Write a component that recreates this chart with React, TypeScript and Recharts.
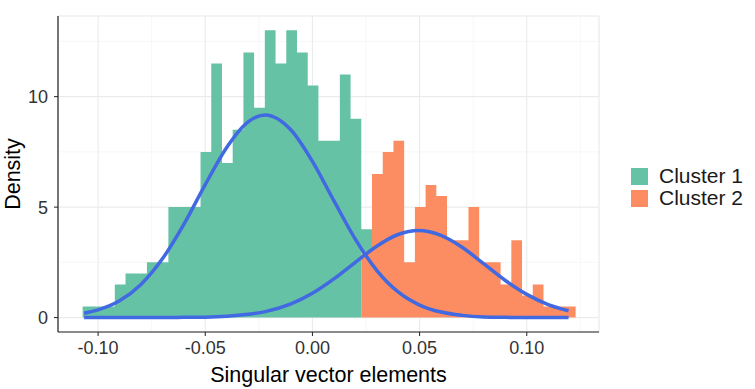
import { ComposedChart, Area, Line, XAxis, YAxis, CartesianGrid } from 'recharts';

// histogram bins (density), width 0.005
const binStart = -0.1072
const binWidth = 0.005
const cluster1 = [0.5,0.5,0.5,1.5,2,2,2.5,2.5,5,5,5,7.5,11.5,7,8.5,12,9.5,13,11.5,13,12,10.5,8,8,11,9,1,
  0,0,0,0,0,0,0,0,0,0,0,0,0,0,0,0,0,0,0]
const cluster2 = [0,0,0,0,0,0,0,0,0,0,0,0,0,0,0,0,0,0,0,0,0,0,0,0,0,0,
  3,6.5,7.5,8,2.5,5,6,5.5,3.5,3.5,5,2.5,2.5,1.5,3.5,1,1.5,0.5,0.5,0.5]

// fitted normal curves
const curveX = [-0.1065,-0.1,-0.09,-0.08,-0.07,-0.06,-0.05,-0.04,-0.03,-0.022,-0.01,0,0.01,0.02,0.03,0.04,0.0495,0.06,0.07,0.08,0.09,0.1,0.11,0.1195]
const fit1 = [0.2,0.35,0.76,1.5,2.66,4.22,6.02,7.7,8.86,9.17,8.49,7.07,5.29,3.55,2.14,1.16,0.59,0.25,0.1,0.03,0.01,0,0,0]
const fit2 = [0,0,0,0,0,0.01,0.02,0.06,0.15,0.27,0.62,1.1,1.75,2.5,3.23,3.76,3.94,3.72,3.17,2.43,1.68,1.05,0.59,0.31]

const xTicks = [-0.1,-0.05,0,0.05,0.1]
const yTicks = [0,5,10]
const xMinor = [-0.075,-0.025,0.025,0.075,0.125]
const yMinor = [2.5,7.5,12.5]
const xDomain = [-0.1187, 0.1337]
const yDomain = [-0.652, 13.65]

const GREEN = '#66c2a5'
const ORANGE = '#fc8d62'
const BLUE = '#4169e1'

const histData = Array.from({ length: cluster1.length + 1 }, (_, i) => {
  const k = Math.min(i, cluster1.length - 1)
  return { x: binStart + i * binWidth, c1: cluster1[k], c2: cluster2[k] }
})
const fit1Data = curveX.map((x, i) => ({ x, y: fit1[i] }))
const fit2Data = curveX.map((x, i) => ({ x, y: fit2[i] }))

const legendItems = [
  { name: 'Cluster 1', color: GREEN },
  { name: 'Cluster 2', color: ORANGE },
]

export default function App() {
  return (
    <div style={{ position:'absolute', left:0, top:0, width:755, height:389, background:'white',
      fontFamily:"'Liberation Sans', Arial, sans-serif" }}>
      <ComposedChart width={755} height={389} data={histData}
        margin={{ top:16, right:156, bottom:0, left:0 }}>
        <CartesianGrid xAxisId='minor' yAxisId='minor' stroke='#f2f2f2' strokeWidth={0.6} />
        <CartesianGrid stroke='#ebebeb' strokeWidth={1.1} />
        <XAxis xAxisId='minor' type='number' dataKey='x' domain={xDomain} allowDataOverflow ticks={xMinor} hide />
        <YAxis yAxisId='minor' type='number' domain={yDomain} allowDataOverflow ticks={yMinor} hide />
        <XAxis type='number' dataKey='x' domain={xDomain} allowDataOverflow
          ticks={xTicks} tickFormatter={(v:number)=>v.toFixed(2)} height={57}
          tick={{ fontSize:18, fill:'#333' }} tickSize={4} tickMargin={5}
          axisLine={{ stroke:'#222', strokeWidth:1.2 }} tickLine={{ stroke:'#222' }}
          label={({ viewBox }: any) => (
            <text x={viewBox.x + viewBox.width/2} y={viewBox.y + 50} textAnchor='middle'
              fontSize={21.5} fill='#000'>Singular vector elements</text>
          )} />
        <YAxis type='number' domain={yDomain} allowDataOverflow ticks={yTicks} width={58}
          tick={{ fontSize:18, fill:'#333' }} tickSize={4} tickMargin={6}
          axisLine={{ stroke:'#222', strokeWidth:1.2 }} tickLine={{ stroke:'#222' }}
          label={({ viewBox }: any) => {
            const cx = viewBox.x + 13, cy = viewBox.y + viewBox.height/2
            return <text x={cx} y={cy} transform={`rotate(-90, ${cx}, ${cy})`} textAnchor='middle'
              dominantBaseline='central' fontSize={21.5} fill='#000'>Density</text>
          }} />
        <Area type='stepAfter' dataKey='c2' stackId='h' fill={ORANGE} fillOpacity={1} stroke='none' isAnimationActive={false} />
        <Area type='stepAfter' dataKey='c1' stackId='h' fill={GREEN} fillOpacity={1} stroke='none' isAnimationActive={false} />
        <Line data={fit1Data} type='monotone' dataKey='y' stroke={BLUE} strokeWidth={3.5} dot={false} isAnimationActive={false} />
        <Line data={fit2Data} type='monotone' dataKey='y' stroke={BLUE} strokeWidth={3.5} dot={false} isAnimationActive={false} />
      </ComposedChart>
      <div style={{ position:'absolute', left:631, top:165 }}>
        {legendItems.map(it => (
          <div key={it.name} style={{ display:'flex', alignItems:'center', height:22 }}>
            <span style={{ width:17, height:17, background:it.color, display:'inline-block', marginRight:11 }} />
            <span style={{ fontSize:21, color:'#1a1a1a' }}>{it.name}</span>
          </div>
        ))}
      </div>
    </div>
  )
}
